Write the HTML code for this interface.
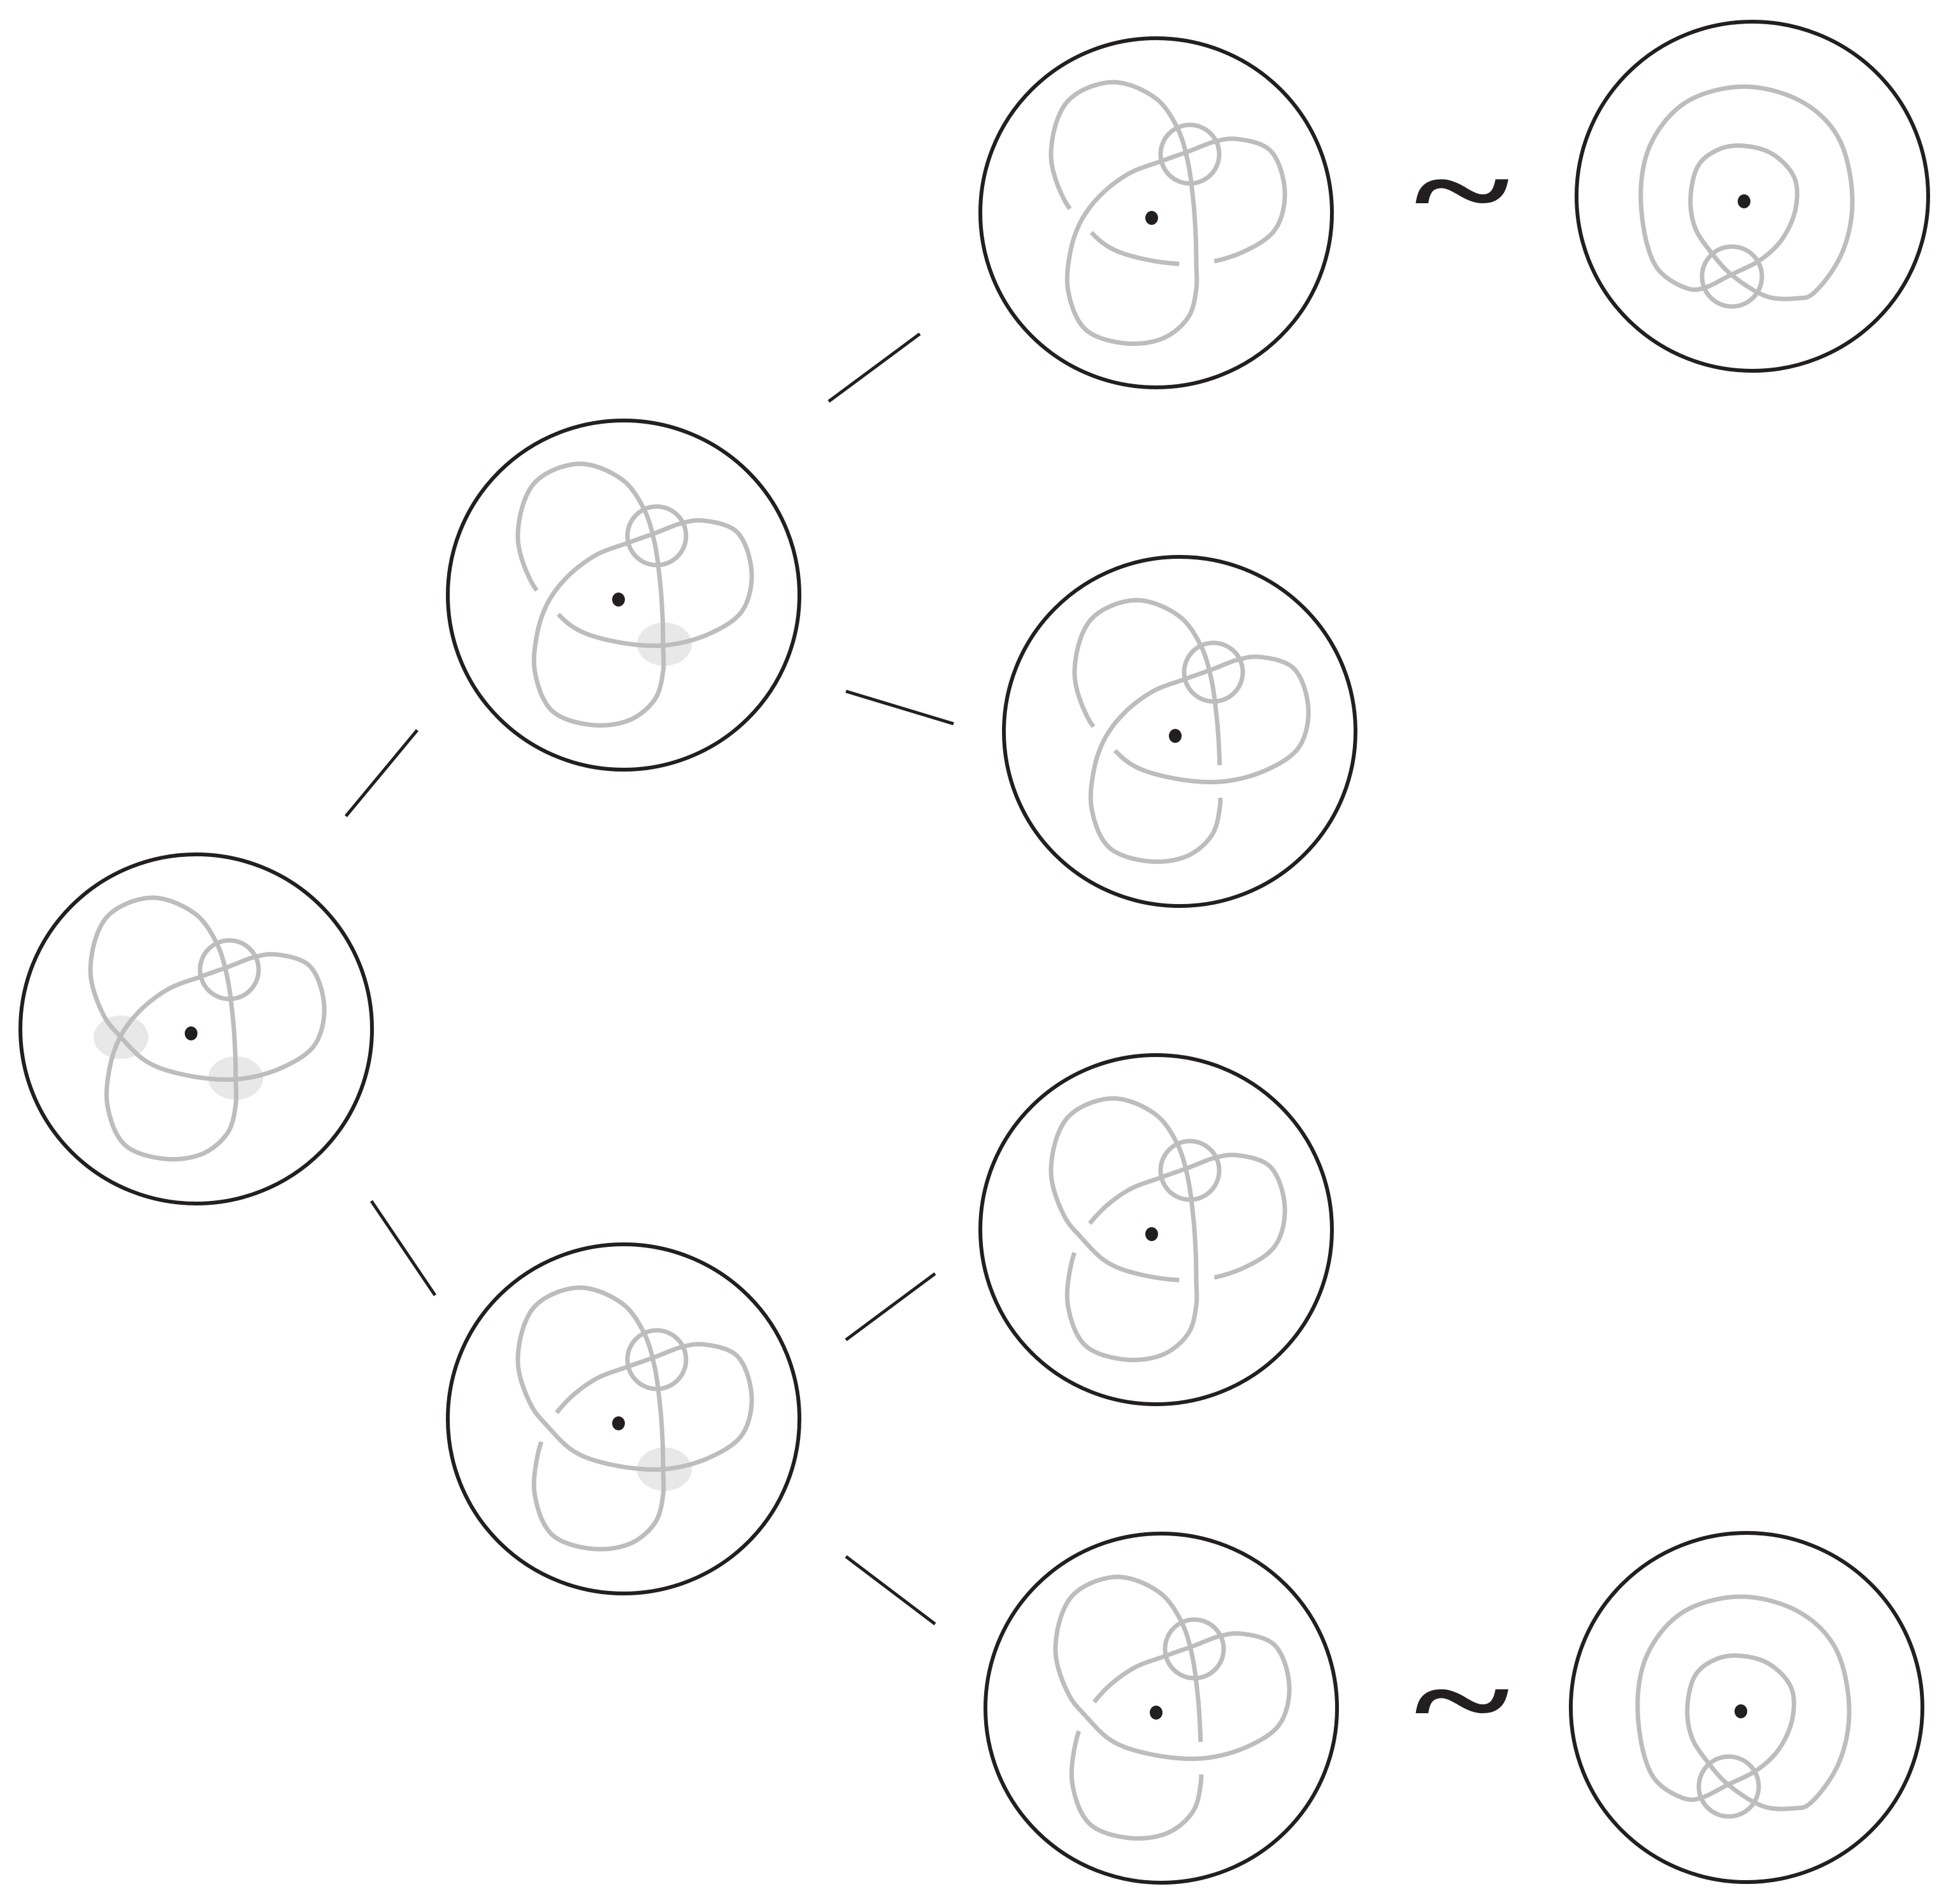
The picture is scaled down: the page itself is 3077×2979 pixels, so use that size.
<!DOCTYPE html>
<html><head><meta charset="utf-8">
<style>html,body{margin:0;padding:0;background:#fff;}svg{display:block;}</style>
</head><body>
<svg id="s" xmlns="http://www.w3.org/2000/svg" width="3077" height="2979" viewBox="0 0 3077 2979">
<rect width="3077" height="2979" fill="#fff"/>
<g stroke="#231f20" stroke-width="5" fill="none">
<line x1="543" y1="1281" x2="655" y2="1146"/>
<line x1="583" y1="1885" x2="683" y2="2033"/>
<line x1="1301" y1="630" x2="1444" y2="524"/>
<line x1="1328" y1="1085" x2="1497" y2="1136"/>
<line x1="1328" y1="2103" x2="1468" y2="1999"/>
<line x1="1328" y1="2443" x2="1468" y2="2549"/>
</g>
<text transform="translate(2295,310) scale(1.15,0.8)" x="0" y="70" font-family="Liberation Serif, serif" font-size="250" font-weight="bold" text-anchor="middle" fill="#231f20">~</text>
<text transform="translate(2295,2680) scale(1.15,0.8)" x="0" y="70" font-family="Liberation Serif, serif" font-size="250" font-weight="bold" text-anchor="middle" fill="#231f20">~</text>
<g id="g"></g>
</svg>
<script>
(function(){
var NS="http://www.w3.org/2000/svg", G=document.getElementById('g');
function el(t,a){var e=document.createElementNS(NS,t);for(var k in a)e.setAttribute(k,a[k]);G.appendChild(e);return e;}
var C=[[-111,5],[-137,-28],[-158,-100],[-132,-183],[-62,-213],[6,-188],[40,-142],[56,-92],[65,-30],[69,25],
[70,72],[70,112],[58,155],[20,188],[-40,197],[-104,175],[-131,115],[-128,55],
[-111,5],[-80,-36],[-35,-70],[12,-88],[57,-104],[100,-120],[132,-124],[186,-106],[209,-42],[194,18],[142,54],
[70,72],[-15,64],[-70,44]];
function cr(p0,p1,p2,p3,t){
 function d(a,b){return Math.max(Math.pow(Math.hypot(b[0]-a[0],b[1]-a[1]),0.5),1e-3);}
 var t0=0,t1=t0+d(p0,p1),t2=t1+d(p1,p2),t3=t2+d(p2,p3);var tt=t1+(t2-t1)*t;
 function L(a,b,ta,tb){var w=(tt-ta)/(tb-ta);return[a[0]+(b[0]-a[0])*w,a[1]+(b[1]-a[1])*w];}
 var A1=L(p0,p1,t0,t1),A2=L(p1,p2,t1,t2),A3=L(p2,p3,t2,t3);
 var B1=L(A1,A2,t0,t2),B2=L(A2,A3,t1,t3);return L(B1,B2,t1,t2);}
function dense(P){var N=P.length,D=[],idx=[],M=16;
 for(var i=0;i<N;i++){idx.push(D.length);var p0=P[(i-1+N)%N],p1=P[i],p2=P[(i+1)%N],p3=P[(i+2)%N];
  for(var j=0;j<M;j++){D.push(cr(p0,p1,p2,p3,j/M));}}
 var s=[0];for(var k=1;k<=D.length;k++){var a=D[k-1],b=D[k%D.length];s.push(s[k-1]+Math.hypot(b[0]-a[0],b[1]-a[1]));}
 return {D:D,s:s,idx:idx,L:s[D.length]};}
var K=dense(C);
function sAt(i){var N=C.length;var w=Math.floor(i/N);return K.s[K.idx[i%N]]+w*K.L;}
function piece(a,b,g){var s0=sAt(a)+g,s1=sAt(b)-g,pts=[],n=K.D.length;
 for(var k=0;k<=2*n;k++){var sk=K.s[k%n]+Math.floor(k/n)*K.L;if(sk>=s0&&sk<=s1)pts.push(K.D[k%n]);}
 return pts;}
function pathStr(pts,dx,dy,close){return pts.map(function(p,i){return(i?'L':'M')+(p[0]+dx).toFixed(1)+' '+(p[1]+dy).toFixed(1);}).join('')+(close?'Z':'');}
var GR='#bdbdbd',SW=7;
function ring(cx,cy){el('ellipse',{cx:cx,cy:cy,rx:276,ry:274,fill:'none',stroke:'#231f20','stroke-width':6});}
function dot(x,y){el('ellipse',{cx:x,cy:y,rx:10,ry:11,fill:'#231f20'});}
function shade(x,y){el('ellipse',{cx:x,cy:y,rx:43,ry:34,fill:'#e8e8e8'});}
function knot(cx,cy,dx,dy,pieces,shades,closed){
 ring(cx,cy);
 (shades||[]).forEach(function(s){shade(dx+s[0],dy+s[1]);});
 el('circle',{cx:dx+60,cy:dy-100,r:46,fill:'none',stroke:GR,'stroke-width':SW});
 if(closed){el('path',{d:pathStr(K.D,dx,dy,true),fill:'none',stroke:GR,'stroke-width':SW,'stroke-linejoin':'round'});}
 pieces.forEach(function(p){el('path',{d:pathStr(piece(p[0],p[1],p[2]),dx,dy,false),fill:'none',stroke:GR,'stroke-width':SW,'stroke-linejoin':'round'});});
 dot(dx,dy);}
var g=24,N=32;
knot(308,1615,300,1622,[],[[-110,6],[70,70]],true);
knot(979,934,971,941,[[0,N,g]],[[72,70]]);
knot(979,2227,971,2234,[[18,18+N,g]],[[72,72]]);
knot(1815,334,1808,342,[[0,29,g],[29,N,g]]);
knot(1852,1148,1845,1155,[[10,N,g],[0,10,g]]);
knot(1815,1930,1808,1937,[[18,29,g],[29,18+N,g]]);
knot(1823,2681,1815,2688,[[18,10+N,g],[10,18,g]]);
var U=[[-20,115],[-66,137],[-88,137],[-137,104],[-162,0],[-147,-89],[-92,-155],[1,-180],[93,-155],[148,-100],[170,0],[152,85],[104,148],[86,152],[38,150],[-20,115],[-51,81],[-77,41],[-84,-7],[-70,-59],[-36,-83],[1,-87],[45,-74],[79,-37],[81,11],[60,59],[27,91]];
var UK=dense(U);
function unknot(cx,cy,dx,dy){ring(cx,cy);
 el('path',{d:pathStr(UK.D,dx,dy,true),fill:'none',stroke:GR,'stroke-width':SW,'stroke-linejoin':'round'});
 el('circle',{cx:dx-19,cy:dy+118,r:47,fill:'none',stroke:GR,'stroke-width':SW});
 dot(dx,dy);}
unknot(2751,308,2738,316);
unknot(2742,2680,2733,2686);
})();
</script>
</body></html>
